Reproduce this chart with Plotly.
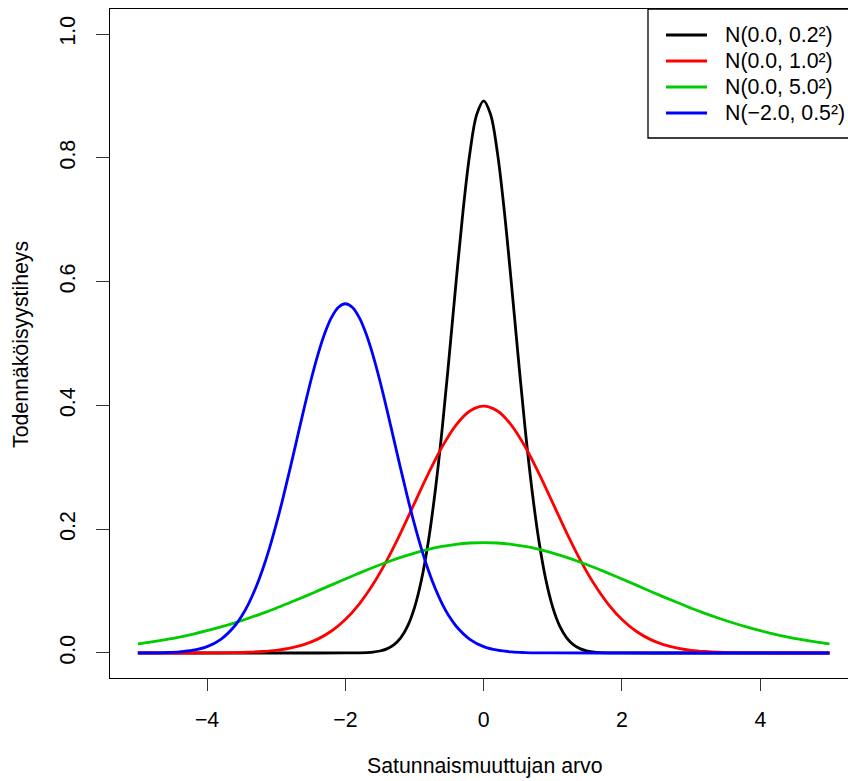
import plotly.graph_objects as go

# shared grid (step 0.2 from -5 to 5) for the wide curves
x_vals = [-5.0, -4.8, -4.6, -4.4, -4.2, -4.0, -3.8, -3.6, -3.4, -3.2, -3.0, -2.8, -2.6, -2.4, -2.2,
          -2.0, -1.8, -1.6, -1.4, -1.2, -1.0, -0.8, -0.6, -0.4, -0.2, 0.0, 0.2, 0.4, 0.6, 0.8,
          1.0, 1.2, 1.4, 1.6, 1.8, 2.0, 2.2, 2.4, 2.6, 2.8, 3.0, 3.2, 3.4, 3.6, 3.8, 4.0, 4.2,
          4.4, 4.6, 4.8, 5.0]

# black curve: finer sampling near the narrow peak
black_x = [-5.0, -4.0, -3.0, -2.4, -2.0, -1.8, -1.6, -1.5, -1.4, -1.3, -1.2, -1.1, -1.0, -0.9, -0.8,
           -0.7, -0.6, -0.5, -0.4, -0.3, -0.2, -0.1, 0.0, 0.1, 0.2, 0.3, 0.4, 0.5, 0.6, 0.7, 0.8,
           0.9, 1.0, 1.1, 1.2, 1.3, 1.4, 1.5, 1.6, 1.8, 2.0, 2.4, 3.0, 4.0, 5.0]
black_y = [0, 0, 0, 0, 0.00004, 0.00027, 0.00148, 0.0032, 0.00664, 0.0130, 0.0244, 0.0433, 0.0732,
           0.1178, 0.1801, 0.2621, 0.3620, 0.4775, 0.5980, 0.7124, 0.8072, 0.8701, 0.8921,
           0.8701, 0.8072, 0.7124, 0.5980, 0.4775, 0.3620, 0.2621, 0.1801, 0.1178, 0.0732,
           0.0433, 0.0244, 0.0130, 0.00664, 0.0032, 0.00148, 0.00027, 0.00004, 0, 0, 0, 0]

red_y = [0, 0, 0, 0, 0, 0.0001, 0.0003, 0.0006, 0.0012, 0.0024, 0.0044, 0.0079, 0.0136, 0.0224, 0.0355,
         0.0540, 0.0790, 0.1109, 0.1497, 0.1942, 0.2420, 0.2897, 0.3332, 0.3683, 0.3910,
         0.3989,
         0.3910, 0.3683, 0.3332, 0.2897, 0.2420, 0.1942, 0.1497, 0.1109, 0.0790, 0.0540,
         0.0355, 0.0224, 0.0136, 0.0079, 0.0044, 0.0024, 0.0012, 0.0006, 0.0003, 0.0001, 0, 0, 0, 0, 0]

green_y = [0.0146, 0.0178, 0.0215, 0.0257, 0.0306, 0.0360, 0.0421, 0.0488, 0.0562, 0.0641, 0.0724,
           0.0815, 0.0907, 0.1003, 0.1100, 0.1196, 0.1290, 0.1381, 0.1467, 0.1545, 0.1614, 0.1673,
           0.1721, 0.1756, 0.1777, 0.1784, 0.1777, 0.1756, 0.1721, 0.1673, 0.1614, 0.1545, 0.1467,
           0.1381, 0.1290, 0.1196, 0.1100, 0.1003, 0.0907, 0.0815, 0.0724, 0.0641, 0.0562, 0.0488,
           0.0421, 0.0360, 0.0306, 0.0257, 0.0215, 0.0178, 0.0146]

# blue curve: finer sampling near its peak at -2
blue_x = [-5.0, -4.8, -4.6, -4.4, -4.2, -4.0, -3.8, -3.6, -3.5, -3.4, -3.3, -3.2, -3.1, -3.0, -2.9,
          -2.8, -2.7, -2.6, -2.5, -2.4, -2.3, -2.2, -2.1, -2.0, -1.9, -1.8, -1.7, -1.6, -1.5, -1.4,
          -1.3, -1.2, -1.1, -1.0, -0.9, -0.8, -0.7, -0.6, -0.5, -0.4, -0.2, 0.0, 0.2, 0.4, 0.6,
          0.8, 1.0, 2.0, 3.0, 4.0, 5.0]
blue_y = [0.0001, 0.0002, 0.0007, 0.0018, 0.0045, 0.0103, 0.0221, 0.0436, 0.0595, 0.0795, 0.1041,
          0.1337, 0.1682, 0.2076, 0.2510, 0.2975, 0.3456, 0.3936, 0.4394, 0.4808, 0.5156, 0.5421,
          0.5586, 0.5642, 0.5586, 0.5421, 0.5156, 0.4808, 0.4394, 0.3936, 0.3456, 0.2975, 0.2510,
          0.2076, 0.1682, 0.1337, 0.1041, 0.0795, 0.0595, 0.0436, 0.0221, 0.0103, 0.0045, 0.0018,
          0.0007, 0.0002, 0.0001, 0, 0, 0, 0]

series_names = ["N(0.0, 0.2²)", "N(0.0, 1.0²)", "N(0.0, 5.0²)", "N(\u22122.0, 0.5²)"]
series_colors = ["#000000", "#FF0000", "#00CD00", "#0000FF"]
series_x = [black_x, x_vals, x_vals, blue_x]
series_y = [black_y, red_y, green_y, blue_y]

x_tickvals = [-4, -2, 0, 2, 4]
x_ticktext = ["\u22124", "\u22122", "0", "2", "4"]
y_tickvals = [0.0, 0.2, 0.4, 0.6, 0.8, 1.0]
y_ticktext = ["0.0", "0.2", "0.4", "0.6", "0.8", "1.0"]

x_title = "Satunnaismuuttujan arvo"
y_title = "Todennäköisyystiheys"

FONT = "Liberation Sans, Arial, Helvetica, sans-serif"
FS = 21.3

W, H = 848, 781
L, R, T, B = 110, 0, 9, 103
pw = W - L - R
ph = H - T - B

fig = go.Figure()
for name, col, xs, ys in zip(series_names, series_colors, series_x, series_y):
    fig.add_trace(go.Scatter(x=xs, y=ys, mode="lines", name=name,
                             line=dict(color=col, width=2.8, shape="spline", smoothing=1.0),
                             showlegend=False, hoverinfo="skip"))

fig.update_layout(
    width=W, height=H,
    margin=dict(l=L, r=R, t=T, b=B, pad=0),
    paper_bgcolor="white", plot_bgcolor="white",
    font=dict(family=FONT, size=FS, color="black"),
    showlegend=False,
)
fig.update_xaxes(range=[-5.403, 5.268], tickvals=x_tickvals, ticktext=x_ticktext,
                 showgrid=False, zeroline=False, showline=True, linecolor="black", linewidth=1.3,
                 mirror=True, ticks="outside", ticklen=12, tickwidth=1, tickcolor="#333333",
                 ticklabelstandoff=10, tickfont=dict(size=FS))
fig.update_yaxes(range=[-0.0404, 1.0404], tickvals=y_tickvals, ticktext=y_ticktext,
                 showgrid=False, zeroline=False, showline=True, linecolor="black", linewidth=1.3,
                 mirror=False, ticks="outside", ticklen=13, tickwidth=1, tickcolor="#333333",
                 tickangle=-90, ticklabelstandoff=12, tickfont=dict(size=FS))


def px_x(px):
    return (px - L) / pw


def px_y(py):
    return 1 - (py - T) / ph


# axis titles
fig.add_annotation(text=x_title, xref="paper", yref="paper", x=px_x(485), y=px_y(766),
                   showarrow=False, xanchor="center", yanchor="middle", font=dict(size=FS))
fig.add_annotation(text=y_title, xref="paper", yref="paper", x=px_x(21), y=px_y(345),
                   showarrow=False, xanchor="center", yanchor="middle", textangle=-90, font=dict(size=FS))

# legend box and entries
fig.add_shape(type="rect", xref="paper", yref="paper", x0=px_x(648), x1=px_x(870),
              y0=px_y(138), y1=px_y(9), line=dict(color="black", width=1.3), fillcolor="white",
              layer="above")
row_y = [35, 61, 87, 113]
for name, col, ry in zip(series_names, series_colors, row_y):
    fig.add_shape(type="line", xref="paper", yref="paper", x0=px_x(666), x1=px_x(707),
                  y0=px_y(ry), y1=px_y(ry), line=dict(color=col, width=2.8), layer="above")
    fig.add_annotation(text=name, xref="paper", yref="paper", x=px_x(723), y=px_y(ry),
                       showarrow=False, xanchor="left", yanchor="middle", font=dict(size=FS))

fig.write_html("out.html")
